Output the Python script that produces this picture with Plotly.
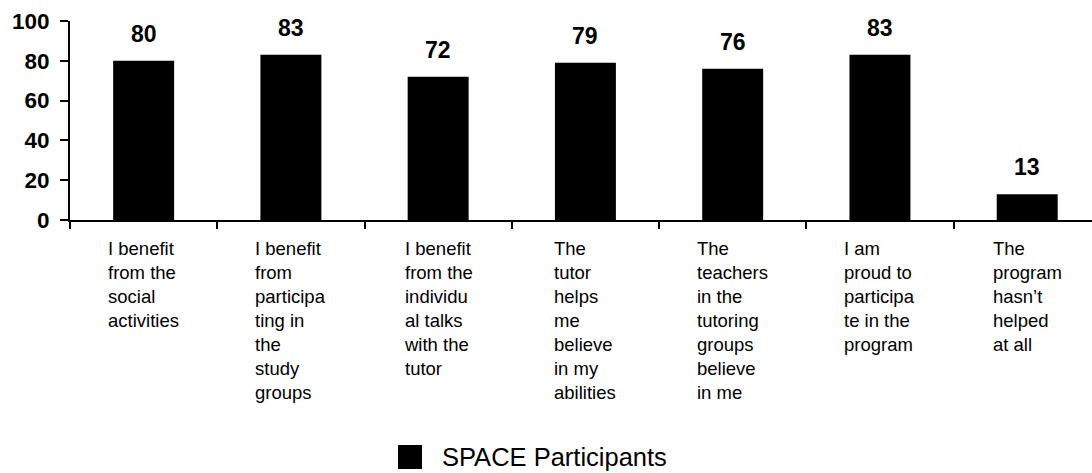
import plotly.graph_objects as go

categories = [
    "I benefit<br>from the<br>social<br>activities",
    "I benefit<br>from<br>participa<br>ting in<br>the<br>study<br>groups",
    "I benefit<br>from the<br>individu<br>al talks<br>with the<br>tutor",
    "The<br>tutor<br>helps<br>me<br>believe<br>in my<br>abilities",
    "The<br>teachers<br>in the<br>tutoring<br>groups<br>believe<br>in me",
    "I am<br>proud to<br>participa<br>te in the<br>program",
    "The<br>program<br>hasn’t<br>helped<br>at all",
]
values = [80, 83, 72, 79, 76, 83, 13]
series_name = "SPACE Participants"
y_ticks = [0, 20, 40, 60, 80, 100]

FONT = "Arial, Liberation Sans, sans-serif"
W, H = 1092, 473
ML, MR, MT, MB = 70, 0, 21, 253
plot_w = W - ML - MR
plot_h = H - MT - MB

fig = go.Figure()
fig.add_trace(go.Bar(
    x=categories, y=values, name=series_name,
    marker=dict(color="black", line=dict(width=0)),
    width=0.414, showlegend=False,
))

# data labels above bars
for c, v in zip(categories, values):
    fig.add_annotation(x=c, y=v, xref="x", yref="y", text=f"<b>{v}</b>",
                       showarrow=False, yanchor="bottom", yshift=12,
                       font=dict(family=FONT, size=23, color="black"))

# category labels (left-aligned multi-line blocks)
for c in categories:
    fig.add_annotation(x=c, y=0, xref="x", yref="paper", text=c,
                       showarrow=False, yanchor="top", yshift=-16,
                       align="left",
                       font=dict(family=FONT, size=18.5, color="black"))

# legend (square + text)
leg_y = (220 - 457) / plot_h
fig.add_shape(type="rect", xref="paper", yref="paper",
              xsizemode="pixel", ysizemode="pixel",
              xanchor=(410 - ML) / plot_w, yanchor=leg_y,
              x0=-12, x1=12, y0=-12, y1=12,
              fillcolor="black", line=dict(width=0))
fig.add_annotation(x=(440 - ML) / plot_w, y=leg_y, xref="paper", yref="paper",
                   text=series_name, showarrow=False, xanchor="left",
                   yanchor="middle",
                   font=dict(family=FONT, size=25.5, color="black"))

fig.update_layout(
    width=W, height=H,
    margin=dict(l=ML, r=MR, t=MT, b=MB, pad=0, autoexpand=False),
    paper_bgcolor="white", plot_bgcolor="white",
    font=dict(family=FONT, color="black"),
    bargap=0.586,
    xaxis=dict(type="category", range=[-0.5, 6.44], tickson="boundaries",
               ticks="outside", ticklen=7, tickwidth=2, tickcolor="black",
               showline=True, linecolor="black", linewidth=2,
               showticklabels=False, showgrid=False, zeroline=False,
               automargin=False, fixedrange=True),
    yaxis=dict(range=[0, 100], tickvals=y_ticks,
               ticktext=[f"<b>{t}</b>" for t in y_ticks],
               ticks="outside", ticklen=8, tickwidth=2, tickcolor="black",
               showline=True, linecolor="black", linewidth=2,
               showgrid=False, zeroline=False, ticklabelstandoff=6,
               tickfont=dict(family=FONT, size=22.5, color="black"),
               automargin=False, fixedrange=True),
)

fig.write_html("out.html", config={"displayModeBar": False},
               post_script="document.body.style.margin='0';document.body.style.overflow='hidden';")
